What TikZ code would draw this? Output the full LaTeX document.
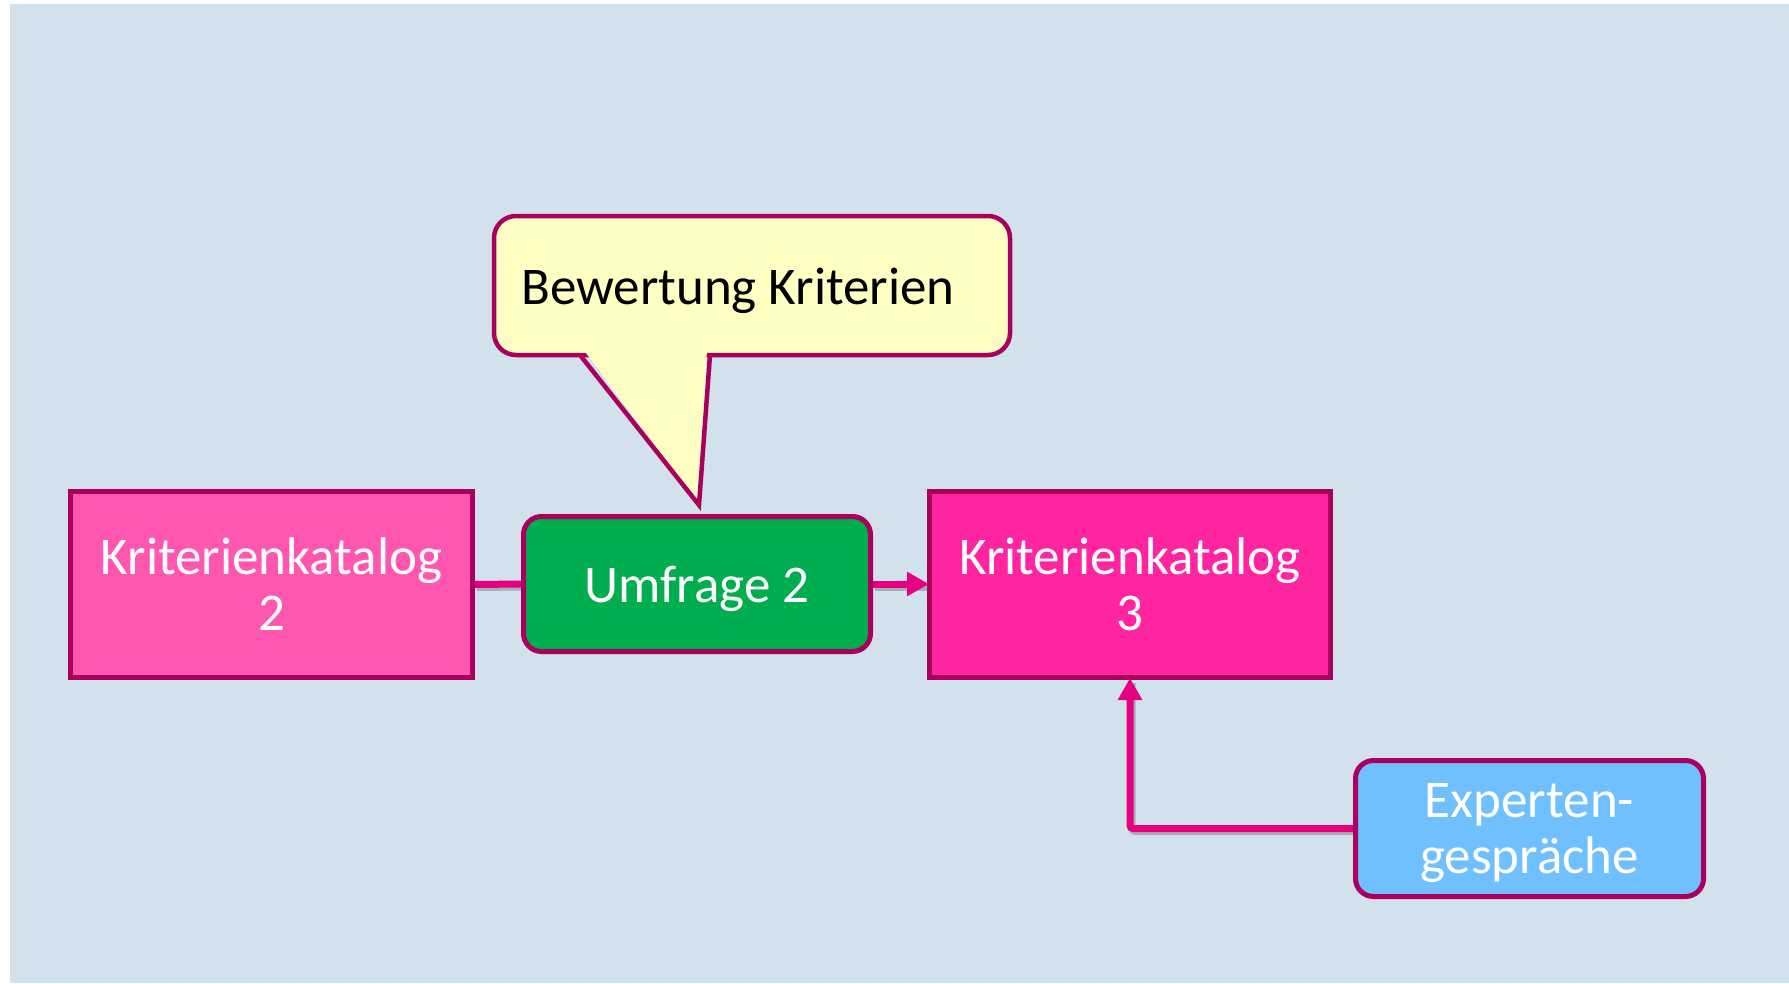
\documentclass[tikz,border=0pt]{standalone}
\usepackage{fontspec}
\setmainfont{Carlito}
\usetikzlibrary{arrows.meta}
\definecolor{bgblue}{RGB}{211,225,236}
\definecolor{bordermag}{RGB}{168,0,92}
\definecolor{connpink}{RGB}{228,0,126}
\definecolor{pinkA}{RGB}{255,87,176}
\definecolor{pinkB}{RGB}{255,37,160}
\definecolor{greenU}{RGB}{0,173,79}
\definecolor{blueE}{RGB}{112,192,255}
\definecolor{yellowC}{RGB}{255,255,196}
\pgfdeclarelayer{bg}
\pgfsetlayers{bg,main}
\begin{document}
\begin{tikzpicture}[x=1pt,y=-1pt,
  box/.style={draw=bordermag, line width=5pt, text=white, align=center, inner sep=0pt,
    font=\fontsize{53}{56}\selectfont, text depth=0pt},
  sqbox/.style={box, rectangle},
  rbox/.style={box, rounded corners=18pt},
  conn/.style={draw=connpink, line width=7pt},
  arr/.style={conn, -{Triangle[length=22pt,width=23pt]}, shorten >=-2pt},
  connshadow/.style={draw=black, opacity=0.22, line width=7pt,
    transform canvas={xshift=2pt,yshift=-3pt}},
  calloutline/.style={draw=bordermag, line width=4.5pt},
  ]
\useasboundingbox (0,0) rectangle (1789,983);

% callout
\node[calloutline, fill=yellowC, rounded corners=22pt, minimum width=516pt,
  minimum height=139pt, inner sep=0pt] (callout) at (752,285.5) {};
\coordinate (tip) at (699,505);
\fill[yellowC] (583,349) -- (tip) -- (707,349) -- cycle;
\draw[calloutline, line join=miter] (580,355) -- (tip) -- (710,355);
\node[anchor=base west, inner sep=0pt, font=\fontsize{53}{56}\selectfont]
  (callouttext) at (521,304) {Bewertung Kriterien};

% boxes
\node[sqbox, fill=pinkA, minimum width=402pt, minimum height=186pt] (k2)
  at (271.5,584.5) {Kriterienkatalog\\2};
\node[rbox, fill=greenU, minimum width=347pt, minimum height=135pt] (umf)
  at (697,584) {Umfrage 2};
\node[sqbox, fill=pinkB, minimum width=401pt, minimum height=186pt] (k3)
  at (1130,584.5) {Kriterienkatalog\\3};
\node[rbox, fill=blueE, minimum width=348pt, minimum height=136pt] (exp)
  at (1529.5,828.5) {Experten-\\gespräche};

% background and connectors
\begin{pgfonlayer}{bg}
\fill[white] (0,0) rectangle (1789,983);
\fill[bgblue] (10,4) rectangle (1789,983);
\draw[connshadow] (k2.east) -- (umf.west);
\draw[connshadow] (umf.east) -- (umf.east -| k3.west);
\draw[connshadow, rounded corners=3pt] (exp.west) -| (k3.south);
\draw[conn] (k2.east) -- (umf.west);
\draw[arr] (umf.east) -- (umf.east -| k3.west);
\draw[arr, rounded corners=3pt] (exp.west) -| (k3.south);
\end{pgfonlayer}
\end{tikzpicture}
\end{document}
